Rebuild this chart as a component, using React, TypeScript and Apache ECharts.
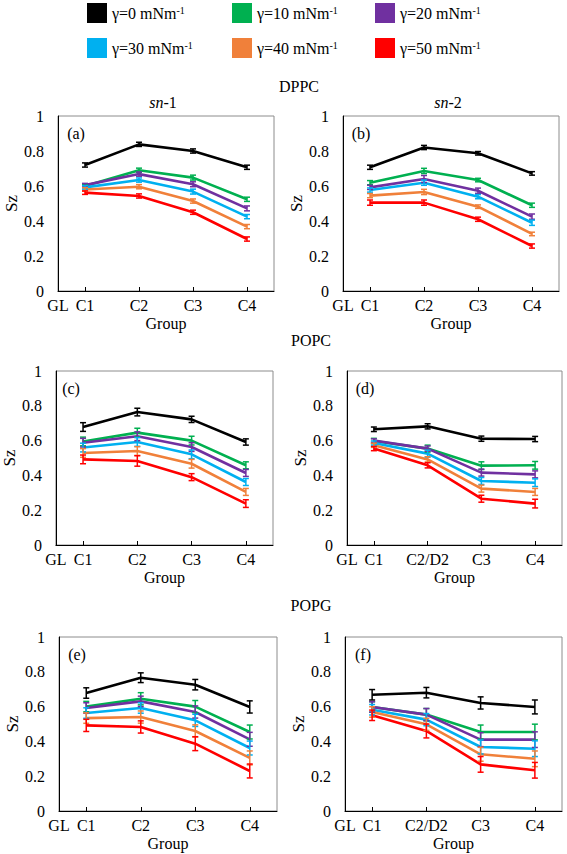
import React, { useEffect, useRef } from "react";
import * as echarts from "echarts";

// ---- data ----
const gammas = [0, 10, 20, 30, 40, 50];
const groupLabels = ["GL", "C1", "C2", "C3", "C4"];
const groupLabelsD2 = ["GL", "C1", "C2/D2", "C3", "C4"];
const groupPositions = [0.5, 1, 2, 3, 4];

const dppcSn1 = [
  [0.72, 0.838, 0.8, 0.707],
  [0.6, 0.69, 0.648, 0.524],
  [0.605, 0.668, 0.61, 0.472],
  [0.592, 0.634, 0.568, 0.425],
  [0.58, 0.596, 0.514, 0.368],
  [0.562, 0.543, 0.45, 0.297],
];
const dppcSn1Err = [
  [0.012, 0.012, 0.012, 0.012],
  [0.01, 0.012, 0.014, 0.012],
  [0.01, 0.012, 0.014, 0.014],
  [0.01, 0.012, 0.014, 0.012],
  [0.01, 0.012, 0.012, 0.012],
  [0.01, 0.012, 0.012, 0.012],
];
const dppcSn2 = [
  [0.707, 0.82, 0.787, 0.672],
  [0.619, 0.686, 0.634, 0.49],
  [0.592, 0.64, 0.573, 0.425],
  [0.577, 0.619, 0.539, 0.39],
  [0.545, 0.566, 0.482, 0.326],
  [0.505, 0.505, 0.41, 0.257],
];
const dppcSn2Err = [
  [0.012, 0.012, 0.01, 0.01],
  [0.012, 0.015, 0.01, 0.012],
  [0.012, 0.02, 0.015, 0.015],
  [0.012, 0.015, 0.012, 0.015],
  [0.012, 0.015, 0.01, 0.01],
  [0.015, 0.015, 0.012, 0.012],
];
const popcSn1 = [
  [0.678, 0.764, 0.722, 0.592],
  [0.595, 0.646, 0.6, 0.458],
  [0.588, 0.625, 0.563, 0.414],
  [0.56, 0.592, 0.521, 0.362],
  [0.529, 0.54, 0.467, 0.305],
  [0.492, 0.483, 0.39, 0.238],
];
const popcSn1Err = [
  [0.025, 0.022, 0.018, 0.018],
  [0.025, 0.025, 0.025, 0.02],
  [0.025, 0.025, 0.025, 0.02],
  [0.025, 0.025, 0.025, 0.02],
  [0.025, 0.025, 0.025, 0.02],
  [0.025, 0.03, 0.02, 0.022],
];
const popcSn2 = [
  [0.665, 0.682, 0.611, 0.609],
  [0.598, 0.554, 0.456, 0.458],
  [0.6, 0.554, 0.416, 0.406],
  [0.586, 0.525, 0.368, 0.358],
  [0.573, 0.492, 0.324, 0.305],
  [0.554, 0.458, 0.266, 0.238],
];
const popcSn2Err = [
  [0.013, 0.015, 0.015, 0.015],
  [0.015, 0.02, 0.022, 0.022],
  [0.01, 0.015, 0.02, 0.02],
  [0.012, 0.02, 0.02, 0.022],
  [0.012, 0.015, 0.02, 0.02],
  [0.012, 0.015, 0.02, 0.025],
];
const popgSn1 = [
  [0.678, 0.766, 0.726, 0.598],
  [0.6, 0.645, 0.6, 0.454],
  [0.592, 0.63, 0.569, 0.412],
  [0.563, 0.592, 0.521, 0.362],
  [0.534, 0.54, 0.46, 0.305],
  [0.492, 0.483, 0.387, 0.23],
];
const popgSn1Err = [
  [0.03, 0.028, 0.03, 0.035],
  [0.03, 0.035, 0.035, 0.04],
  [0.03, 0.03, 0.035, 0.04],
  [0.03, 0.03, 0.035, 0.04],
  [0.03, 0.035, 0.035, 0.04],
  [0.035, 0.035, 0.04, 0.04],
];
const popgSn2 = [
  [0.668, 0.68, 0.621, 0.598],
  [0.598, 0.554, 0.454, 0.454],
  [0.598, 0.554, 0.41, 0.41],
  [0.582, 0.525, 0.368, 0.358],
  [0.569, 0.498, 0.326, 0.3],
  [0.55, 0.46, 0.268, 0.234],
];
const popgSn2Err = [
  [0.03, 0.03, 0.035, 0.04],
  [0.03, 0.035, 0.04, 0.045],
  [0.03, 0.035, 0.04, 0.045],
  [0.03, 0.035, 0.04, 0.045],
  [0.03, 0.035, 0.04, 0.045],
  [0.03, 0.04, 0.045, 0.045],
];

// ---- styles ----
const colors = ["#000000", "#00B050", "#7030A0", "#00B0F0", "#F0803A", "#FF0000"];
const FONT = "'Liberation Serif', 'Times New Roman', serif";

const panels = [
  { tag: "(a)", values: dppcSn1, errs: dppcSn1Err, labels: groupLabels, grid: { left: 58, top: 116, width: 216, height: 175 } },
  { tag: "(b)", values: dppcSn2, errs: dppcSn2Err, labels: groupLabels, grid: { left: 343, top: 116, width: 216, height: 175 } },
  { tag: "(c)", values: popcSn1, errs: popcSn1Err, labels: groupLabels, grid: { left: 53, top: 371, width: 220, height: 174 } },
  { tag: "(d)", values: popcSn2, errs: popcSn2Err, labels: groupLabelsD2, grid: { left: 347, top: 371, width: 215, height: 174 } },
  { tag: "(e)", values: popgSn1, errs: popgSn1Err, labels: groupLabels, grid: { left: 59, top: 637, width: 218, height: 174 } },
  { tag: "(f)", values: popgSn2, errs: popgSn2Err, labels: groupLabelsD2, grid: { left: 345, top: 637, width: 217, height: 174 } },
];

const legendPos = [
  [87, 3], [232, 3], [375, 3],
  [87, 38], [232, 38], [375, 38],
];

function buildOption() {
  const grids: any[] = [];
  const xAxes: any[] = [];
  const yAxes: any[] = [];
  const series: any[] = [];
  const graphics: any[] = [];

  panels.forEach((p, pi) => {
    grids.push({ ...p.grid, show: true, borderColor: "#8c8c8c", borderWidth: 1, containLabel: false });
    xAxes.push({
      type: "value",
      gridIndex: pi,
      min: 0.5,
      max: 4.5,
      axisLine: { show: true, lineStyle: { color: "#000", width: 1 } },
      axisTick: { show: true, inside: true, length: 4, customValues: [1, 2, 3, 4], lineStyle: { color: "#000" } },
      axisLabel: {
        show: true,
        customValues: groupPositions,
        formatter: (v: number) => {
          const i = groupPositions.indexOf(v);
          return i >= 0 ? p.labels[i] : "";
        },
        margin: 6,
        color: "#000",
        fontFamily: FONT,
        fontSize: 16,
      },
      splitLine: { show: false },
      name: "Group",
      nameLocation: "middle",
      nameGap: 24,
      nameTextStyle: { color: "#000", fontFamily: FONT, fontSize: 16 },
    });
    yAxes.push({
      type: "value",
      gridIndex: pi,
      min: 0,
      max: 1,
      interval: 0.2,
      axisLine: { show: true, lineStyle: { color: "#000", width: 1 } },
      axisTick: { show: false },
      axisLabel: { color: "#000", fontFamily: FONT, fontSize: 16, margin: 14 },
      splitLine: { show: false },
      name: "Sz",
      nameLocation: "middle",
      nameGap: 36,
      nameTextStyle: { color: "#000", fontFamily: FONT, fontSize: 17 },
    });

    p.values.forEach((vals, si) => {
      const name = `γ=${gammas[si]}`;
      const color = colors[si];
      series.push({
        type: "line",
        name,
        xAxisIndex: pi,
        yAxisIndex: pi,
        data: vals.map((v, k) => [k + 1, v]),
        symbol: "none",
        color,
        itemStyle: { color },
        lineStyle: { color, width: 2.6 },
        z: 2,
      });
      series.push({
        type: "custom",
        name,
        xAxisIndex: pi,
        yAxisIndex: pi,
        data: vals.map((v, k) => [k + 1, v, p.errs[si][k]]),
        encode: { x: 0, y: 1 },
        z: 3,
        renderItem: (params: any, api: any) => {
          const x = api.value(0);
          const y = api.value(1);
          const e = api.value(2);
          const t = api.coord([x, y + e]);
          const b = api.coord([x, y - e]);
          const w = 3;
          const style = { stroke: color, lineWidth: 1.5 };
          return {
            type: "group",
            children: [
              { type: "line", shape: { x1: t[0], y1: t[1], x2: b[0], y2: b[1] }, style },
              { type: "line", shape: { x1: t[0] - w, y1: t[1], x2: t[0] + w, y2: t[1] }, style },
              { type: "line", shape: { x1: b[0] - w, y1: b[1], x2: b[0] + w, y2: b[1] }, style },
            ],
          };
        },
      });
    });

    graphics.push({
      type: "text",
      x: p.grid.left + 18,
      y: p.grid.top + 17,
      style: { text: p.tag, fill: "#000", font: `16px ${FONT}`, align: "center", verticalAlign: "middle" },
    });
  });

  const titleText = (text: string, x: number, y: number) => ({
    type: "text",
    x,
    y,
    style: { text, fill: "#000", font: `16px ${FONT}`, align: "center", verticalAlign: "middle" },
  });
  graphics.push(titleText("DPPC", 299, 86));
  graphics.push(titleText("POPC", 311, 340));
  graphics.push(titleText("POPG", 311, 605));
  [["1", 163], ["2", 448]].forEach(([n, x]) => {
    graphics.push({
      type: "text",
      x: x as number,
      y: 102,
      style: {
        text: `{i|sn}-${n}`,
        fill: "#000",
        font: `16px ${FONT}`,
        align: "center",
        verticalAlign: "middle",
        rich: { i: { fontStyle: "italic", fontFamily: FONT, fontSize: 16, fill: "#000" } },
      },
    });
  });

  const legends = gammas.map((g, i) => ({
    data: [{ name: `γ=${g}`, icon: "rect" }],
    left: legendPos[i][0],
    top: legendPos[i][1],
    padding: 0,
    itemWidth: 20,
    itemHeight: 20,
    selectedMode: false,
    formatter: (name: string) => `${name} mNm{sup|-1}`,
    textStyle: {
      color: "#000",
      fontFamily: FONT,
      fontSize: 16,
      rich: { sup: { fontSize: 10, fontFamily: FONT, color: "#000", verticalAlign: "top", padding: [0, 0, 6, 0] } },
    },
  }));

  return {
    animation: false,
    backgroundColor: "#fff",
    legend: legends,
    grid: grids,
    xAxis: xAxes,
    yAxis: yAxes,
    series,
    graphic: graphics,
  };
}

export default function App() {
  const ref = useRef<HTMLDivElement>(null);
  useEffect(() => {
    if (!ref.current) return;
    const chart = echarts.init(ref.current, undefined, { renderer: "svg" });
    chart.setOption(buildOption() as any);
    return () => chart.dispose();
  }, []);
  return (
    <div
      ref={ref}
      style={{ position: "fixed", left: 0, top: 0, width: 567, height: 854, background: "#fff" }}
    />
  );
}
